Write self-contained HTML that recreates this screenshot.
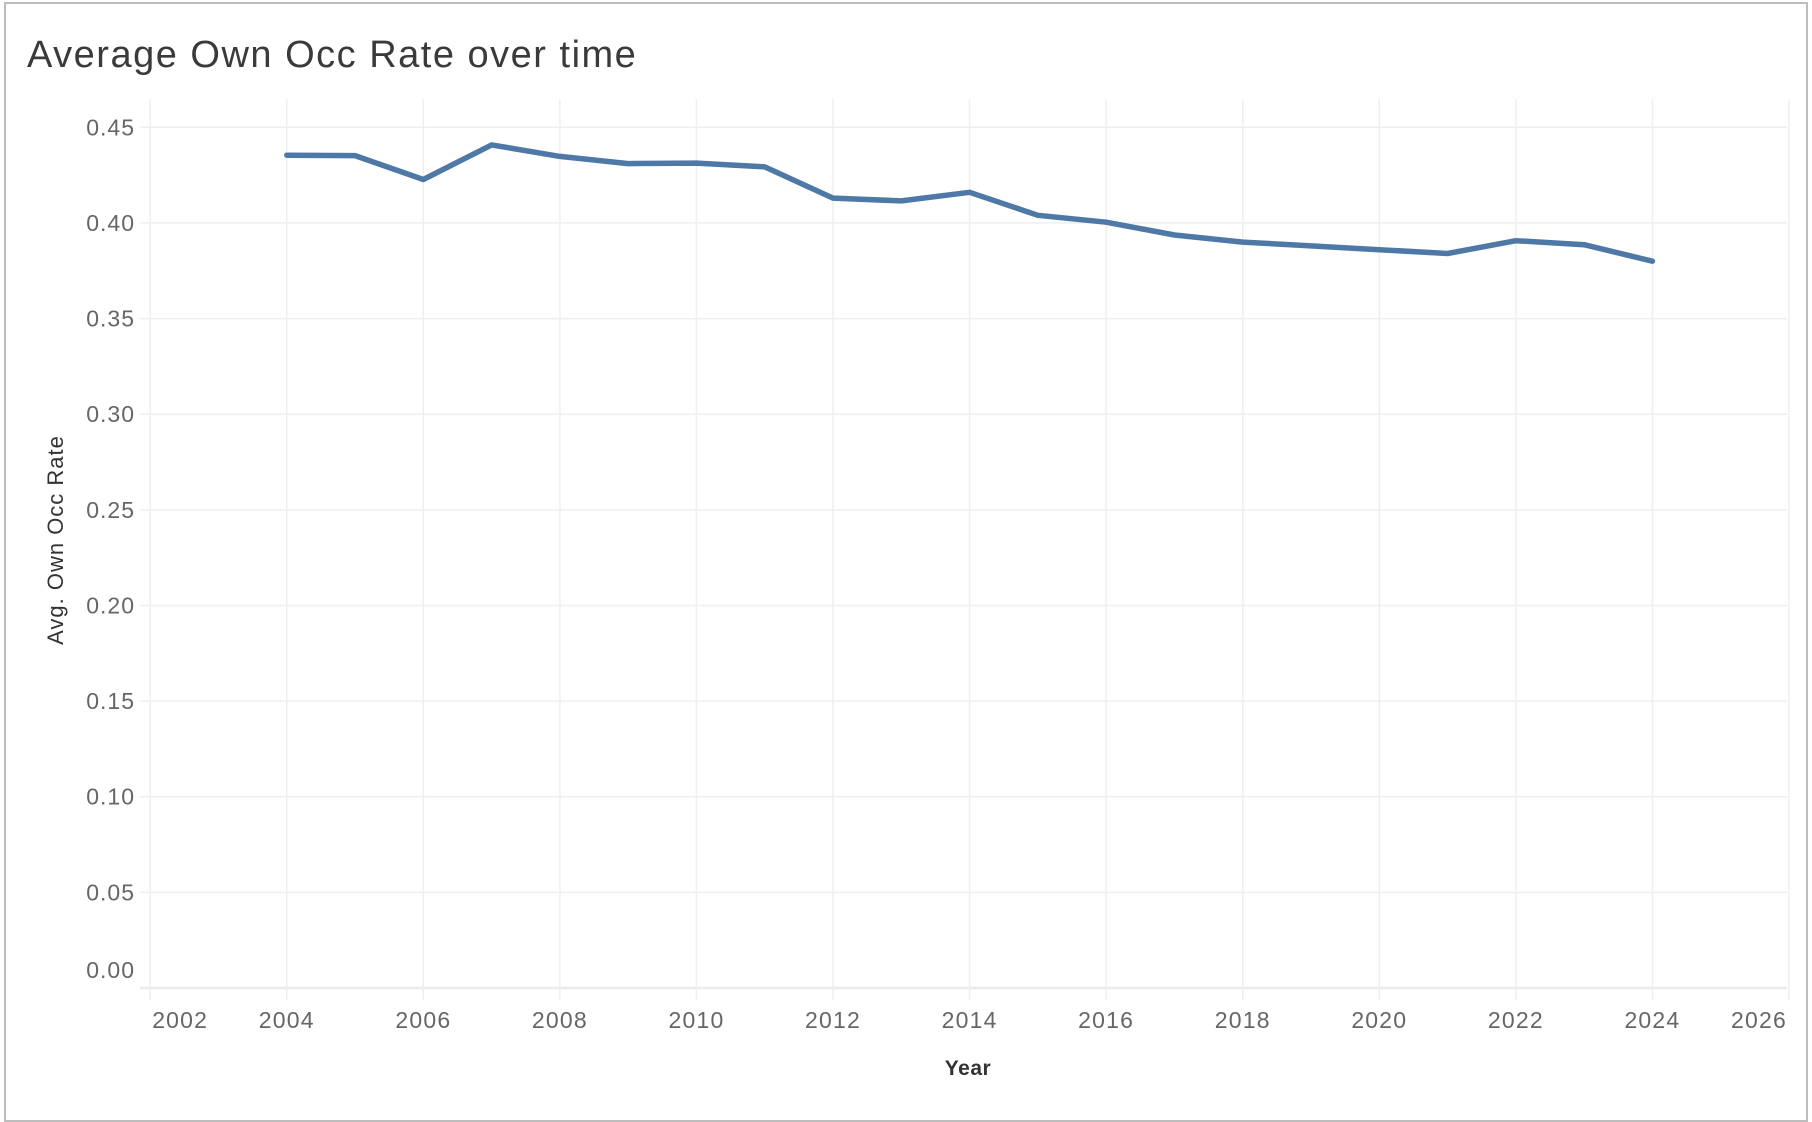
<!DOCTYPE html>
<html><head><meta charset="utf-8"><style>
html,body{margin:0;padding:0;background:#fff;}
body{width:1812px;height:1116px;overflow:hidden;position:relative;font-family:"Liberation Sans","DejaVu Sans",sans-serif;}
#frame{position:absolute;left:4px;top:2px;width:1804px;height:1120px;border:2px solid #bdbdbd;box-sizing:border-box;}
#title{position:absolute;left:27px;top:34px;font-size:38px;color:#3a3a3a;letter-spacing:1.5px;}
</style></head><body>
<div id="frame"></div>
<div id="title">Average Own Occ Rate over time</div>
<svg id="chart" width="1812" height="1116" style="position:absolute;left:0;top:0"></svg>
<script>
const years = [2004,2005,2006,2007,2008,2009,2010,2011,2012,2013,2014,2015,2016,2017,2018,2019,2020,2021,2022,2023,2024];
const rates = [0.4354,0.4352,0.4227,0.4408,0.4348,0.4310,0.4313,0.4293,0.4130,0.4115,0.4160,0.4040,0.4004,0.3937,0.3900,0.3880,0.3860,0.3840,0.3907,0.3886,0.3800];
const yTicks = [0,0.05,0.10,0.15,0.20,0.25,0.30,0.35,0.40,0.45];
const xTicks = [2002,2004,2006,2008,2010,2012,2014,2016,2018,2020,2022,2024,2026];

const NS="http://www.w3.org/2000/svg";
const svg=document.getElementById('chart');
const X0=150.2,X1=1789,Y0=988,Y1=127.3;
const x=v=>X0+(v-2002)/24*(X1-X0);
const y=v=>Y0+(v/0.45)*(Y1-Y0);
function mk(t,a){const e=document.createElementNS(NS,t);for(const k in a)e.setAttribute(k,a[k]);svg.appendChild(e);return e;}

yTicks.forEach(t=>{
  const g=mk('line',{x1:140,x2:1787,y1:y(t),y2:y(t),stroke:t===0?'#ebebeb':'#efefef','stroke-width':t===0?2.5:1.5});
  
  
  const lb=mk('text',{x:135,y:(t===0?y(t)-10:y(t)+8),'text-anchor':'end','font-size':23,'letter-spacing':1,fill:'#666'});
  lb.textContent=t.toFixed(2);
  
  
});
xTicks.forEach((t,i)=>{
  const g=mk('line',{x1:x(t),x2:x(t),y1:99,y2:1000,stroke:'#efefef','stroke-width':1.5});
  
  
  let lx=x(t),anc='middle';
  if(i===0){lx=x(t)+2;anc='start';}
  if(i===xTicks.length-1){lx=x(t)-2;anc='end';}
  const lb=mk('text',{x:lx,y:1028,'text-anchor':anc,'font-size':23,'letter-spacing':1.2,fill:'#666'});
  lb.textContent=t;
  
  
});
const pts=years.map((yr,i)=>x(yr).toFixed(1)+','+y(rates[i]).toFixed(1)).join(' ');
const pl=mk('polyline',{points:pts,fill:'none',stroke:'#4e79a7','stroke-width':5.5,'stroke-linejoin':'round','stroke-linecap':'round'});


const xt=mk('text',{x:968,y:1075,'text-anchor':'middle','font-size':21,'font-weight':'bold','letter-spacing':0.5,fill:'#333'});
xt.textContent='Year';


const yt=mk('text',{x:0,y:0,'text-anchor':'middle','font-size':22,'letter-spacing':1,fill:'#333',transform:'translate(63,540) rotate(-90)'});
yt.textContent='Avg. Own Occ Rate';


</script>
</body></html>
